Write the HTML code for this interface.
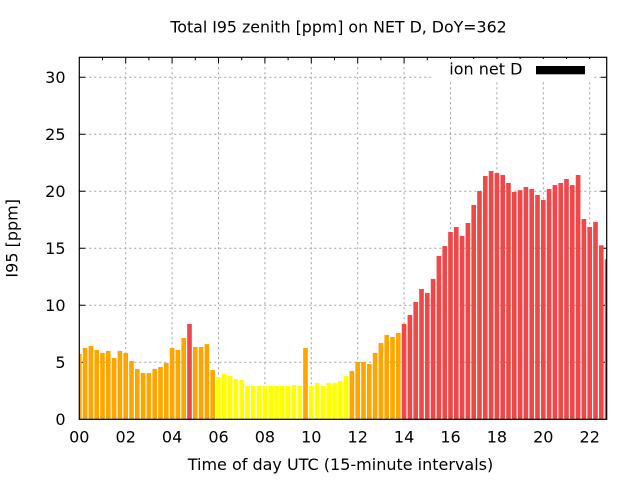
<!DOCTYPE html>
<html>
<head>
<meta charset="utf-8">
<style>
html,body{margin:0;padding:0;background:#fff;}
svg{display:block;font-family:"DejaVu Sans","Liberation Sans",sans-serif;}
.o{fill:#ffa500}.y{fill:#ffff00}.r{fill:#f04848}
</style>
</head>
<body>
<svg width="640" height="480" viewBox="0 0 640 480" xmlns="http://www.w3.org/2000/svg">
<rect width="640" height="480" fill="#fff"/>
<!-- grid -->
<g stroke="#a0a0a0" stroke-width="1" stroke-dasharray="2,3" fill="none">
<line x1="125.7" y1="57.3" x2="125.7" y2="419.3"/>
<line x1="172.1" y1="57.3" x2="172.1" y2="419.3"/>
<line x1="218.5" y1="57.3" x2="218.5" y2="419.3"/>
<line x1="264.9" y1="57.3" x2="264.9" y2="419.3"/>
<line x1="311.3" y1="57.3" x2="311.3" y2="419.3"/>
<line x1="357.7" y1="57.3" x2="357.7" y2="419.3"/>
<line x1="404.1" y1="57.3" x2="404.1" y2="419.3"/>
<line x1="450.5" y1="57.3" x2="450.5" y2="419.3"/>
<line x1="496.9" y1="57.3" x2="496.9" y2="419.3"/>
<line x1="543.3" y1="57.3" x2="543.3" y2="419.3"/>
<line x1="589.7" y1="57.3" x2="589.7" y2="419.3"/>
<line x1="79.3" y1="362.3" x2="606.7" y2="362.3"/>
<line x1="79.3" y1="305.3" x2="606.7" y2="305.3"/>
<line x1="79.3" y1="248.3" x2="606.7" y2="248.3"/>
<line x1="79.3" y1="191.3" x2="606.7" y2="191.3"/>
<line x1="79.3" y1="134.3" x2="606.7" y2="134.3"/>
<line x1="79.3" y1="77.3" x2="606.7" y2="77.3"/>
</g>
<!-- ticks -->
<g stroke="#000" stroke-width="1">
<path d="M125.7 419.3v-6M172.1 419.3v-6M218.5 419.3v-6M264.9 419.3v-6M311.3 419.3v-6M357.7 419.3v-6M404.1 419.3v-6M450.5 419.3v-6M496.9 419.3v-6M543.3 419.3v-6M589.7 419.3v-6"/>
<path d="M102.5 419.3v-3M148.9 419.3v-3M195.3 419.3v-3M241.7 419.3v-3M288.1 419.3v-3M334.5 419.3v-3M380.9 419.3v-3M427.3 419.3v-3M473.7 419.3v-3M520.1 419.3v-3M566.5 419.3v-3"/>
<path d="M125.7 57.3v6M172.1 57.3v6M218.5 57.3v6M264.9 57.3v6M311.3 57.3v6M357.7 57.3v6M404.1 57.3v6M450.5 57.3v6M496.9 57.3v6M543.3 57.3v6M589.7 57.3v6"/>
<path d="M102.5 57.3v3M148.9 57.3v3M195.3 57.3v3M241.7 57.3v3M288.1 57.3v3M334.5 57.3v3M380.9 57.3v3M427.3 57.3v3M473.7 57.3v3M520.1 57.3v3M566.5 57.3v3"/>
<path d="M79.3 362.3h6M79.3 305.3h6M79.3 248.3h6M79.3 191.3h6M79.3 134.3h6M79.3 77.3h6"/>
<path d="M606.7 362.3h-6M606.7 305.3h-6M606.7 248.3h-6M606.7 191.3h-6M606.7 134.3h-6M606.7 77.3h-6"/>
</g>
<!-- bars -->
<defs><clipPath id="pc"><rect x="79.3" y="57.3" width="527.4" height="362"/></clipPath></defs>
<g clip-path="url(#pc)">
<g transform="translate(79.3,419.3) scale(5.8,-11.4)">
<rect class="o" x="-0.4" y="0" width="0.8" height="5.73"/>
<rect class="o" x="0.6" y="0" width="0.8" height="6.25"/>
<rect class="o" x="1.6" y="0" width="0.8" height="6.43"/>
<rect class="o" x="2.6" y="0" width="0.8" height="6.08"/>
<rect class="o" x="3.6" y="0" width="0.8" height="5.82"/>
<rect class="o" x="4.6" y="0" width="0.8" height="6.0"/>
<rect class="o" x="5.6" y="0" width="0.8" height="5.38"/>
<rect class="o" x="6.6" y="0" width="0.8" height="6.0"/>
<rect class="o" x="7.6" y="0" width="0.8" height="5.82"/>
<rect class="o" x="8.6" y="0" width="0.8" height="5.11"/>
<rect class="o" x="9.6" y="0" width="0.8" height="4.41"/>
<rect class="o" x="10.6" y="0" width="0.8" height="4.06"/>
<rect class="o" x="11.6" y="0" width="0.8" height="4.06"/>
<rect class="o" x="12.6" y="0" width="0.8" height="4.41"/>
<rect class="o" x="13.6" y="0" width="0.8" height="4.59"/>
<rect class="o" x="14.6" y="0" width="0.8" height="4.94"/>
<rect class="o" x="15.6" y="0" width="0.8" height="6.25"/>
<rect class="o" x="16.6" y="0" width="0.8" height="6.08"/>
<rect class="o" x="17.6" y="0" width="0.8" height="7.13"/>
<rect class="r" x="18.6" y="0" width="0.8" height="8.36"/>
<rect class="o" x="19.6" y="0" width="0.8" height="6.34"/>
<rect class="o" x="20.6" y="0" width="0.8" height="6.34"/>
<rect class="o" x="21.6" y="0" width="0.8" height="6.6"/>
<rect class="o" x="22.6" y="0" width="0.8" height="4.32"/>
<rect class="y" x="23.6" y="0" width="0.8" height="3.71"/>
<rect class="y" x="24.6" y="0" width="0.8" height="3.97"/>
<rect class="y" x="25.6" y="0" width="0.8" height="3.8"/>
<rect class="y" x="26.6" y="0" width="0.8" height="3.53"/>
<rect class="y" x="27.6" y="0" width="0.8" height="3.45"/>
<rect class="y" x="28.6" y="0" width="0.8" height="2.92"/>
<rect class="y" x="29.6" y="0" width="0.8" height="2.92"/>
<rect class="y" x="30.6" y="0" width="0.8" height="2.92"/>
<rect class="y" x="31.6" y="0" width="0.8" height="2.92"/>
<rect class="y" x="32.6" y="0" width="0.8" height="2.92"/>
<rect class="y" x="33.6" y="0" width="0.8" height="2.92"/>
<rect class="y" x="34.6" y="0" width="0.8" height="2.92"/>
<rect class="y" x="35.6" y="0" width="0.8" height="2.92"/>
<rect class="y" x="36.6" y="0" width="0.8" height="3.0"/>
<rect class="y" x="37.6" y="0" width="0.8" height="2.92"/>
<rect class="o" x="38.6" y="0" width="0.8" height="6.25"/>
<rect class="y" x="39.6" y="0" width="0.8" height="2.92"/>
<rect class="y" x="40.6" y="0" width="0.8" height="3.19"/>
<rect class="y" x="41.6" y="0" width="0.8" height="2.92"/>
<rect class="y" x="42.6" y="0" width="0.8" height="3.19"/>
<rect class="y" x="43.6" y="0" width="0.8" height="3.19"/>
<rect class="y" x="44.6" y="0" width="0.8" height="3.36"/>
<rect class="y" x="45.6" y="0" width="0.8" height="3.8"/>
<rect class="o" x="46.6" y="0" width="0.8" height="4.24"/>
<rect class="o" x="47.6" y="0" width="0.8" height="5.03"/>
<rect class="o" x="48.6" y="0" width="0.8" height="5.03"/>
<rect class="o" x="49.6" y="0" width="0.8" height="4.85"/>
<rect class="o" x="50.6" y="0" width="0.8" height="5.82"/>
<rect class="o" x="51.6" y="0" width="0.8" height="6.69"/>
<rect class="o" x="52.6" y="0" width="0.8" height="7.4"/>
<rect class="o" x="53.6" y="0" width="0.8" height="7.22"/>
<rect class="o" x="54.6" y="0" width="0.8" height="7.57"/>
<rect class="r" x="55.6" y="0" width="0.8" height="8.36"/>
<rect class="r" x="56.6" y="0" width="0.8" height="9.15"/>
<rect class="r" x="57.6" y="0" width="0.8" height="10.29"/>
<rect class="r" x="58.6" y="0" width="0.8" height="11.43"/>
<rect class="r" x="59.6" y="0" width="0.8" height="11.08"/>
<rect class="r" x="60.6" y="0" width="0.8" height="12.31"/>
<rect class="r" x="61.6" y="0" width="0.8" height="14.33"/>
<rect class="r" x="62.6" y="0" width="0.8" height="15.2"/>
<rect class="r" x="63.6" y="0" width="0.8" height="16.43"/>
<rect class="r" x="64.6" y="0" width="0.8" height="16.87"/>
<rect class="r" x="65.6" y="0" width="0.8" height="16.08"/>
<rect class="r" x="66.6" y="0" width="0.8" height="17.22"/>
<rect class="r" x="67.6" y="0" width="0.8" height="18.8"/>
<rect class="r" x="68.6" y="0" width="0.8" height="20.03"/>
<rect class="r" x="69.6" y="0" width="0.8" height="21.34"/>
<rect class="r" x="70.6" y="0" width="0.8" height="21.78"/>
<rect class="r" x="71.6" y="0" width="0.8" height="21.6"/>
<rect class="r" x="72.6" y="0" width="0.8" height="21.43"/>
<rect class="r" x="73.6" y="0" width="0.8" height="20.73"/>
<rect class="r" x="74.6" y="0" width="0.8" height="19.94"/>
<rect class="r" x="75.6" y="0" width="0.8" height="20.1"/>
<rect class="r" x="76.6" y="0" width="0.8" height="20.38"/>
<rect class="r" x="77.6" y="0" width="0.8" height="20.2"/>
<rect class="r" x="78.6" y="0" width="0.8" height="19.68"/>
<rect class="r" x="79.6" y="0" width="0.8" height="19.24"/>
<rect class="r" x="80.6" y="0" width="0.8" height="20.2"/>
<rect class="r" x="81.6" y="0" width="0.8" height="20.55"/>
<rect class="r" x="82.6" y="0" width="0.8" height="20.73"/>
<rect class="r" x="83.6" y="0" width="0.8" height="21.08"/>
<rect class="r" x="84.6" y="0" width="0.8" height="20.55"/>
<rect class="r" x="85.6" y="0" width="0.8" height="21.43"/>
<rect class="r" x="86.6" y="0" width="0.8" height="17.57"/>
<rect class="r" x="87.6" y="0" width="0.8" height="16.87"/>
<rect class="r" x="88.6" y="0" width="0.8" height="17.31"/>
<rect class="r" x="89.6" y="0" width="0.8" height="15.26"/>
<rect class="r" x="90.6" y="0" width="0.8" height="14.03"/>
</g>
</g>
<!-- legend -->
<rect x="431" y="59" width="163" height="21" fill="#fff"/>
<text x="449.3" y="74.5" font-size="16" fill="#000">ion net D</text>
<rect x="536" y="66" width="49" height="8.3" fill="#000"/>
<!-- border -->
<rect x="79.3" y="57.3" width="527.4" height="362" fill="none" stroke="#000" stroke-width="1.2"/>
<!-- y tick labels -->
<g font-size="16" fill="#000" text-anchor="end">
<text x="65.5" y="425">0</text>
<text x="65.5" y="368">5</text>
<text x="65.5" y="311">10</text>
<text x="65.5" y="254">15</text>
<text x="65.5" y="197">20</text>
<text x="65.5" y="140">25</text>
<text x="65.5" y="83">30</text>
</g>
<!-- x tick labels -->
<g font-size="16" fill="#000" text-anchor="middle">
<text x="79.3" y="442.5">00</text>
<text x="125.7" y="442.5">02</text>
<text x="172.1" y="442.5">04</text>
<text x="218.5" y="442.5">06</text>
<text x="264.9" y="442.5">08</text>
<text x="311.3" y="442.5">10</text>
<text x="357.7" y="442.5">12</text>
<text x="404.1" y="442.5">14</text>
<text x="450.5" y="442.5">16</text>
<text x="496.9" y="442.5">18</text>
<text x="543.3" y="442.5">20</text>
<text x="589.7" y="442.5">22</text>
</g>
<!-- titles -->
<text x="338.5" y="32.7" font-size="15.8" text-anchor="middle" fill="#000">Total I95 zenith [ppm] on NET D, DoY=362</text>
<text x="340.5" y="470" font-size="16" text-anchor="middle" fill="#000">Time of day UTC (15-minute intervals)</text>
<text transform="translate(17.5,238.3) rotate(-90)" font-size="16" text-anchor="middle" fill="#000">I95 [ppm]</text>
</svg>
</body>
</html>
